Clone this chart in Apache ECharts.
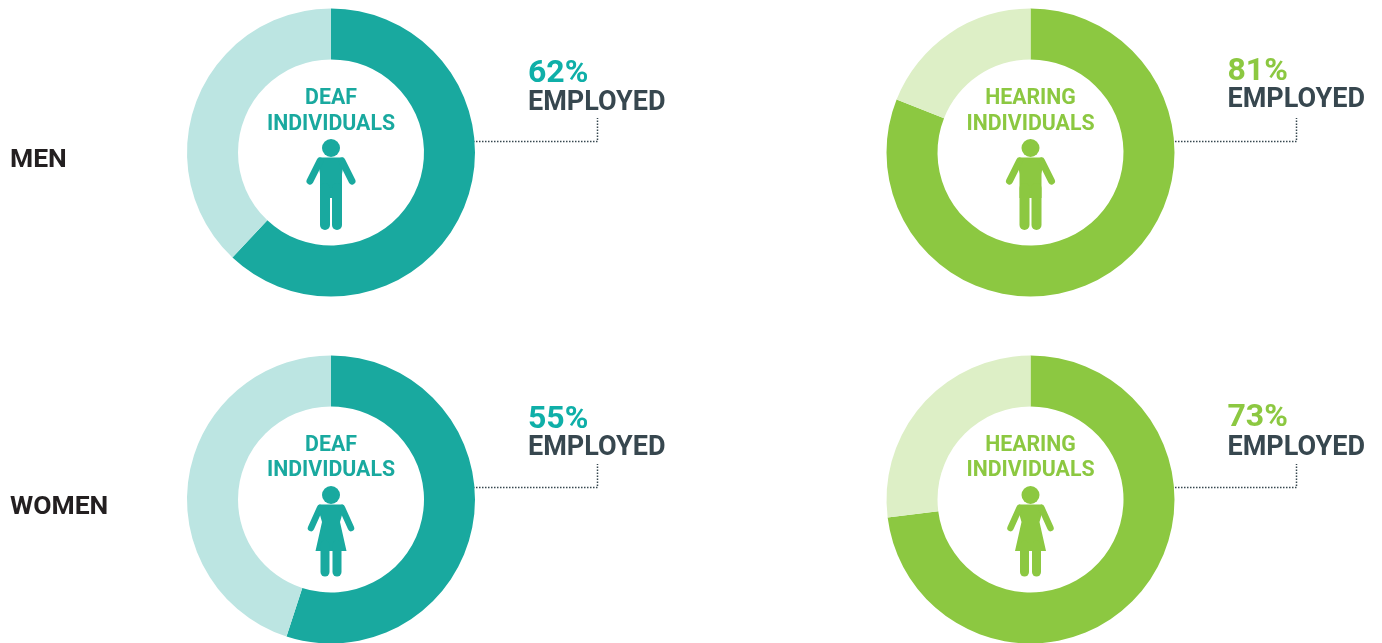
<!DOCTYPE html>
<html>
<head>
<meta charset="utf-8">
<style>
  html, body { margin: 0; padding: 0; background: #fff; }
  #chart { width: 1382px; height: 643px; }
</style>
<script src="https://cdn.jsdelivr.net/npm/echarts@6/dist/echarts.min.js"></script>
</head>
<body>
<div id="chart"></div>
<script>
// data
const rowLabels = ['MEN', 'WOMEN'];
const groupLines = [['DEAF', 'INDIVIDUALS'], ['HEARING', 'INDIVIDUALS']];
const employedLabel = 'EMPLOYED';
const deafEmployed = [62, 55];
const hearingEmployed = [81, 73];

// colours per group
const mainColors = ['#19a99f', '#8cc841'];
const lightColors = ['#bce5e2', '#ddefc6'];
const percentColors = ['#0fafa8', '#8cc841'];
const FONT = 'Roboto';

// layout
const colX = [331, 1030.5];
const rowY = [152.5, 499.5];
const INNER_R = 93;
const OUTER_R = 144;

const series = [];
const graphic = [];

function addText(text, x, y, size, color, align) {
    graphic.push({
        type: 'text', silent: true, x: x, y: y,
        style: {
            text: text, fill: color, align: align || 'left', verticalAlign: 'middle',
            font: 'bold ' + size + 'px ' + FONT
        }
    });
}

function limb(x1, y1, x2, y2, width, color) {
    return {
        type: 'line', shape: { x1: x1, y1: y1, x2: x2, y2: y2 },
        style: { stroke: color, lineWidth: width, lineCap: 'round' }
    };
}

// coordinates are relative to the centre of the head
function man(color) {
    return [
        { type: 'circle', shape: { cx: 0, cy: 0, r: 9 }, style: { fill: color } },
        { type: 'polygon', shape: { points: [[-11.5, 9.5], [11.5, 9.5], [13, 13], [11, 26], [11, 50], [-11, 50], [-11, 26], [-13, 13]] }, style: { fill: color } },
        limb(-11, 13, -21, 33, 7, color),
        limb(11, 13, 21, 33, 7, color),
        limb(-6, 40, -6, 77, 10, color),
        limb(6, 40, 6, 77, 10, color)
    ];
}

function woman(color) {
    return [
        { type: 'circle', shape: { cx: 0, cy: 0, r: 9 }, style: { fill: color } },
        { type: 'polygon', shape: { points: [[-11.5, 9.5], [11.5, 9.5], [13, 13], [9, 27], [15.5, 56], [-15.5, 56], [-9, 27], [-13, 13]] }, style: { fill: color } },
        limb(-11, 13, -20, 33, 6.5, color),
        limb(11, 13, 20, 33, 6.5, color),
        limb(-6, 50, -6, 77, 9, color),
        limb(6, 50, 6, 77, 9, color)
    ];
}

// small per-panel offsets of the texts, as in the original artwork
const percentOffsetY = [[-79, -81], [-80, -82]];
const employedOffsetY = [[-49, -52], [-51, -51]];
const nameOffsetY = [[[-54, -28], [-54, -28]], [[-54, -29], [-54, -29]]];

rowY.forEach(function (cy, r) {
    addText(rowLabels[r], 10, cy + 8, 26.5, '#231f20');

    colX.forEach(function (cx, c) {
        const value = (c === 0 ? deafEmployed : hearingEmployed)[r];

        series.push({
            type: 'pie',
            center: [cx, cy],
            radius: [INNER_R, OUTER_R],
            startAngle: 90,
            clockwise: true,
            silent: true,
            animation: false,
            label: { show: false },
            labelLine: { show: false },
            data: [
                { value: value, itemStyle: { color: mainColors[c] } },
                { value: 100 - value, itemStyle: { color: lightColors[c] } }
            ]
        });

        groupLines[c].forEach(function (line, i) {
            addText(line, cx, cy + nameOffsetY[r][c][i], 21.3, mainColors[c], 'center');
        });

        graphic.push({
            type: 'group', silent: true, x: cx, y: cy - 4.5,
            children: r === 0 ? man(mainColors[c]) : woman(mainColors[c])
        });

        addText(value + '%', cx + 197, cy + percentOffsetY[r][c], 32, percentColors[c]);
        addText(employedLabel, cx + 197, cy + employedOffsetY[r][c], 27, '#37474f');

        // dotted leader line
        const lineY = Math.floor(cy) - (r === 0 ? 11 : 12);
        const x0 = Math.floor(cx);
        graphic.push({
            type: 'polyline', silent: true,
            shape: { points: [[x0 + 142, lineY + 0.5], [x0 + 266.5, lineY + 0.5], [x0 + 266.5, lineY - 23]] },
            style: { stroke: '#37474f', fill: null, lineWidth: 1.5, lineDash: [1.5, 1.5] }
        });
    });
});

const chart = echarts.init(document.getElementById('chart'));
chart.setOption({
    animation: false,
    backgroundColor: '#fff',
    series: series,
    graphic: graphic
});
</script>
</body>
</html>
